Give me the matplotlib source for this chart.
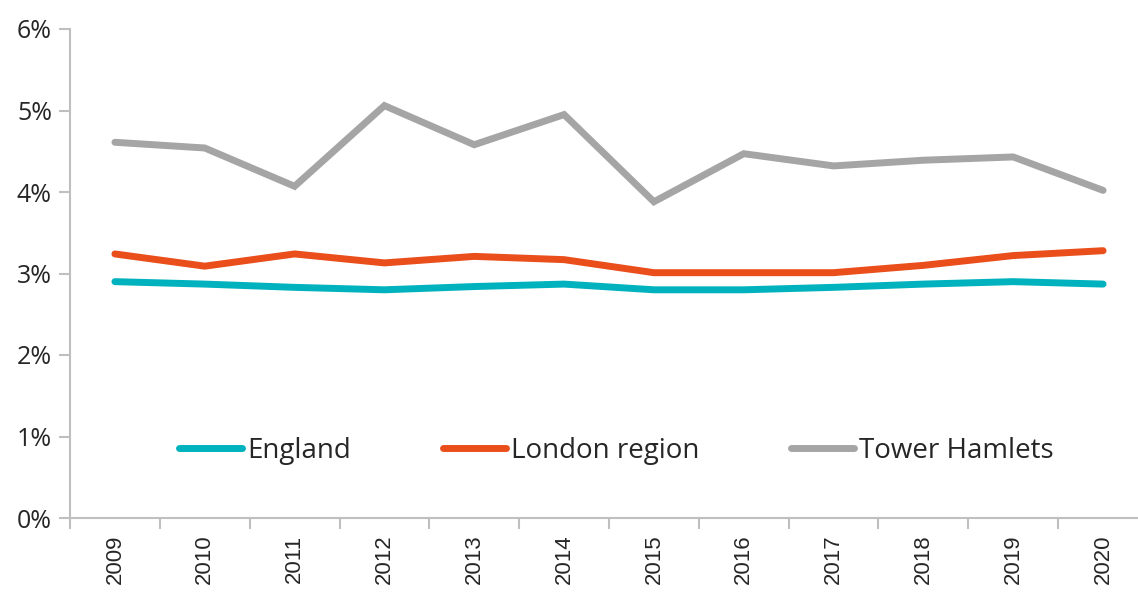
import matplotlib
matplotlib.use("Agg")
import matplotlib.pyplot as plt
from matplotlib.ticker import FixedLocator, PercentFormatter
import numpy as np

years = ["2009", "2010", "2011", "2012", "2013", "2014", "2015", "2016", "2017", "2018", "2019", "2020"]
england = [2.90, 2.87, 2.83, 2.80, 2.84, 2.87, 2.80, 2.80, 2.83, 2.87, 2.90, 2.87]
london = [3.24, 3.09, 3.24, 3.13, 3.21, 3.17, 3.01, 3.01, 3.01, 3.10, 3.22, 3.28]
tower_hamlets = [4.61, 4.54, 4.07, 5.06, 4.58, 4.95, 3.88, 4.47, 4.32, 4.39, 4.43, 4.02]
series_names = ["England", "London region", "Tower Hamlets"]
colors = ["#00B2BD", "#E94E1B", "#A5A5A5"]

plt.rcParams['font.family'] = ['Open Sans', 'DejaVu Sans']
fig = plt.figure(figsize=(11.38, 5.96), dpi=100)
ax = fig.add_axes([70/1138, 1-518/596, 1078/1138, 489/596])

x = np.arange(len(years))
for vals, name, c in zip([england, london, tower_hamlets], series_names, colors):
    ax.plot(x, vals, color=c, lw=5, solid_capstyle='round', solid_joinstyle='miter', label=name)

ax.set_xlim(-0.5, len(years) - 0.5)
ax.set_ylim(0, 6)
ax.set_yticks(np.arange(0, 7, 1))
ax.yaxis.set_major_formatter(PercentFormatter(decimals=0))
ax.set_xticks(x)
ax.set_xticklabels(years, rotation=90, family=['Liberation Sans', 'DejaVu Sans'], fontsize=16)
ax.xaxis.set_minor_locator(FixedLocator(np.arange(-0.5, len(years), 1)))
ax.tick_params(axis='x', which='major', length=0, pad=12, labelcolor='#262626')
ax.tick_params(axis='x', which='minor', length=8, width=1.5, color='#BFBFBF')
ax.tick_params(axis='y', length=8, width=1.5, color='#BFBFBF', labelsize=18, labelcolor='#262626', pad=5)
for s in ['top', 'right']:
    ax.spines[s].set_visible(False)
for s in ['left', 'bottom']:
    ax.spines[s].set_color('#BFBFBF')
    ax.spines[s].set_linewidth(1.5)

leg = ax.legend(loc='center', bbox_to_anchor=(0.507, 0.137), ncol=3, frameon=False,
                fontsize=20, handlelength=2.27, handletextpad=0.18, columnspacing=3.3)
for t in leg.get_texts():
    t.set_color('#262626')

fig.savefig("out.png", dpi=100)
